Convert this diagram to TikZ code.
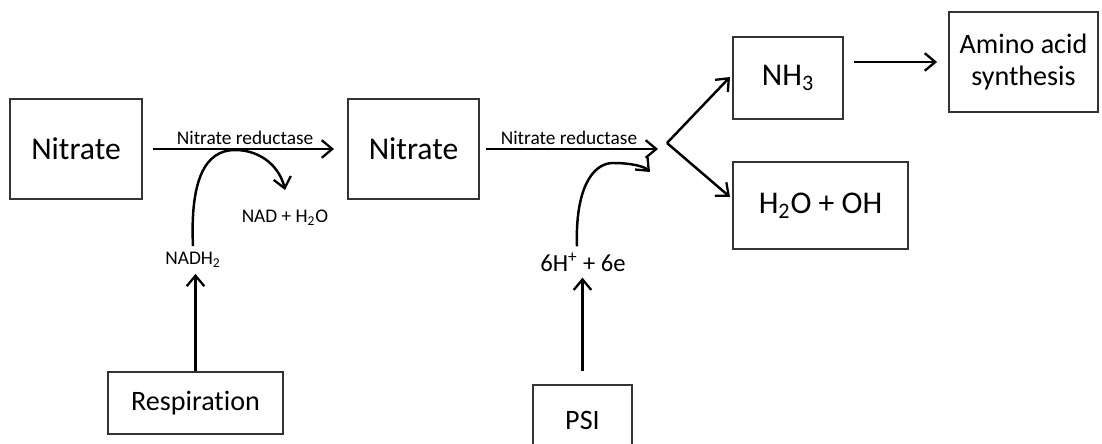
\documentclass[tikz,border=0pt]{standalone}
\usepackage{fontspec}
\setmainfont[Ligatures=NoCommon]{Carlito}
\usetikzlibrary{calc}
\usetikzlibrary{arrows.meta}

\begin{document}
\begin{tikzpicture}[x=0.02cm, y=-0.02cm,
    box/.style={draw=black!80, line width=1.1pt, inner sep=0pt, align=center, text=black},
    big/.style={font=\fontsize{18}{20}\selectfont},
    mid/.style={font=\fontsize{16}{18}\selectfont},
    small/.style={font=\fontsize{11}{12}\selectfont, text=black},
    arr/.style={-{Straight Barb[length=6pt, width=10pt, line width=1.3pt]}, line width=1.4pt, black}]
    \useasboundingbox (0,0) rectangle (1102,443);
    \clip (0,0) rectangle (1102,443);

    % 1. 方框
    \node[box, big, minimum width=2.64cm, minimum height=2cm] (nitA) at (76,149) {Nitrate};
    \node[box, big, minimum width=2.62cm, minimum height=2cm] (nitB) at (413.5,149) {Nitrate};
    \node[box, big, minimum width=2.2cm, minimum height=1.64cm] (nh3) at (788,78) {NH\textsubscript{3}};
    \node[box, big, minimum width=3.5cm, minimum height=1.74cm] (water) at (820.5,205.5) {H\textsubscript{2}O + OH};
    \node[box, mid, minimum width=2.98cm, minimum height=2cm] (amino) at (1023.5,62) {Amino acid\\synthesis};
    \node[box, mid, minimum width=3.5cm, minimum height=1.24cm] (resp) at (195.5,403) {Respiration};
    \node[box, mid, minimum width=1.98cm, minimum height=1.4cm] (psi) at (582.5,420) {PSI};

    % 2. 文字标签
    \node[small] (nadh) at (193,260) {NADH\textsubscript{2}};
    \node[small] (nad) at (285,218) {NAD + H\textsubscript{2}O};
    \node[font=\fontsize{14}{16}\selectfont, text=black] (hplus) at (583,262) {6H\textsuperscript{+} + 6e};

    % 3. 辅助坐标
    \coordinate (tipA) at (285,190);
    \coordinate (tipB) at (658,148);
    \coordinate (fork) at (667,143);
    \coordinate (tipC) at (650,172);
    \coordinate (tipN) at (730,77);
    \coordinate (tipW) at (730,197);

    % 4. 直线箭头
    \draw[arr, shorten <=0.2cm, shorten >=0.26cm] (nitA) -- (nitB)
        node[midway, above, small, inner sep=2pt] {Nitrate reductase};
    \draw[arr, shorten <=0.12cm] (nitB) -- (nitB -| tipB)
        node[midway, above, small, inner sep=2pt] {Nitrate reductase};
    \draw[arr] (fork) -- (tipN);
    \draw[arr] (fork) -- (tipW);
    \draw[arr, shorten <=0.2cm, shorten >=0.22cm] (nh3.east |- amino) -- (amino);
    \draw[arr] (resp) -- (resp |- nadh.south);
    \draw[arr, shorten <=0.26cm] (psi) -- (psi |- hplus.south);

    % 5. 弯曲箭头
    \draw[arr] (nadh.north) .. controls (190,180) and (205,150) .. (235,150)
        .. controls (262,150) and (280,168) .. (tipA);
    \draw[arr] ([xshift=-0.12cm]hplus.north) .. controls (575,190) and (592,163) .. (613,163)
        .. controls (630,163) and (644,166) .. (tipC);

\end{tikzpicture}
\end{document}
